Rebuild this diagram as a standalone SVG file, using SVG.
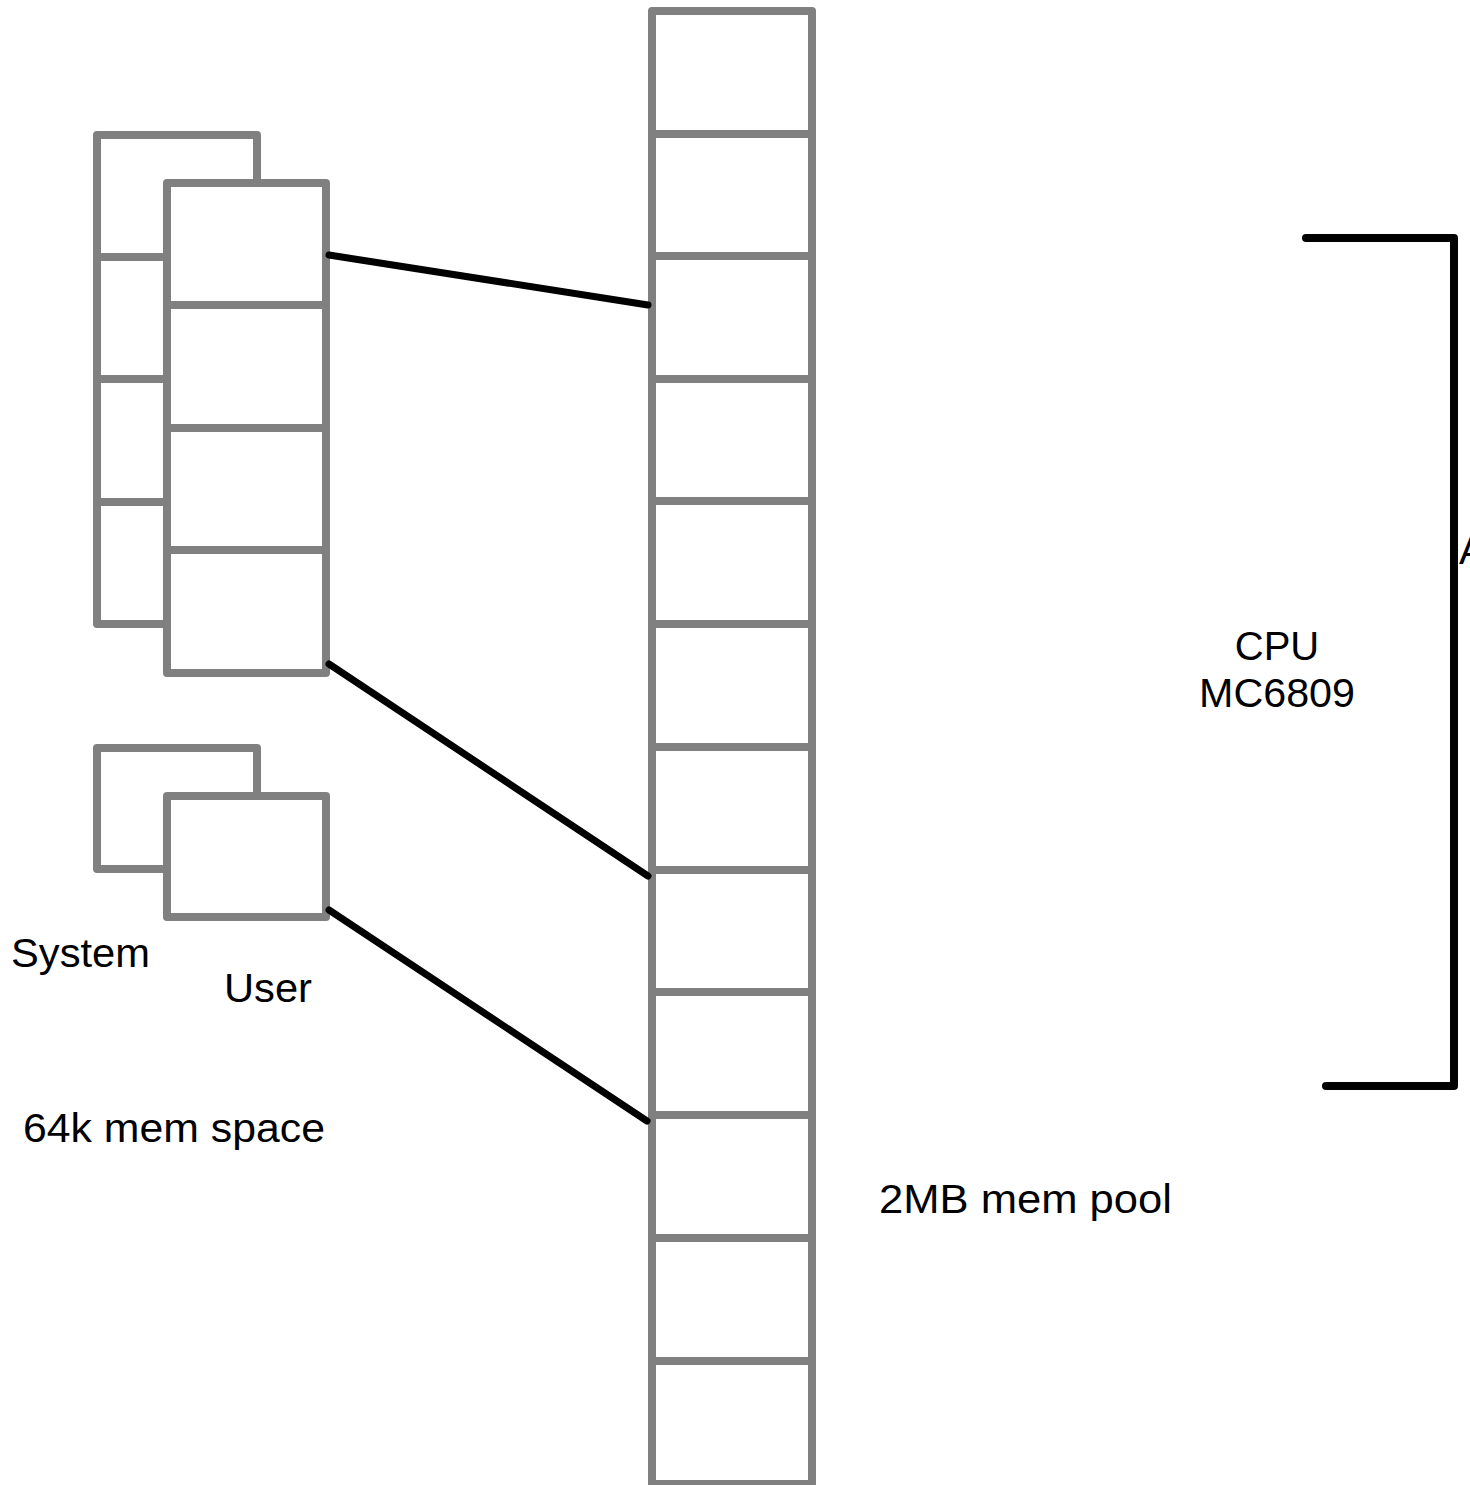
<svg xmlns="http://www.w3.org/2000/svg" width="1470" height="1485" viewBox="0 0 1470 1485">
<style>
.box{fill:#fff;stroke:#808080;stroke-width:8;stroke-linejoin:round}
.div{stroke:#808080;stroke-width:8;fill:none}
.con{stroke:#000;stroke-width:7;stroke-linecap:round;fill:none}
.br{stroke:#000;stroke-width:8;stroke-linecap:round;stroke-linejoin:round;fill:none}
text{font-family:"Liberation Sans",Arial,Helvetica,sans-serif;font-size:40px;fill:#000}
</style>
<rect width="1470" height="1485" fill="#fff"/>
<g id="system-space">
<rect class="box" x="97" y="135" width="160" height="489"/>
<line class="div" x1="97" y1="257" x2="257" y2="257"/>
<line class="div" x1="97" y1="379" x2="257" y2="379"/>
<line class="div" x1="97" y1="502" x2="257" y2="502"/>
</g>
<g id="user-space">
<rect class="box" x="167" y="183" width="159" height="490"/>
<line class="div" x1="167" y1="305" x2="326" y2="305"/>
<line class="div" x1="167" y1="428" x2="326" y2="428"/>
<line class="div" x1="167" y1="550" x2="326" y2="550"/>
</g>
<g id="system-page">
<rect class="box" x="97" y="748" width="160" height="121"/>
</g>
<g id="user-page">
<rect class="box" x="167" y="796" width="159" height="121"/>
</g>
<g id="mem-pool">
<rect class="box" x="652" y="11" width="160" height="1473"/>
<line class="div" x1="652" y1="134" x2="812" y2="134"/>
<line class="div" x1="652" y1="256" x2="812" y2="256"/>
<line class="div" x1="652" y1="379" x2="812" y2="379"/>
<line class="div" x1="652" y1="501" x2="812" y2="501"/>
<line class="div" x1="652" y1="624" x2="812" y2="624"/>
<line class="div" x1="652" y1="747" x2="812" y2="747"/>
<line class="div" x1="652" y1="870" x2="812" y2="870"/>
<line class="div" x1="652" y1="992" x2="812" y2="992"/>
<line class="div" x1="652" y1="1115" x2="812" y2="1115"/>
<line class="div" x1="652" y1="1238" x2="812" y2="1238"/>
<line class="div" x1="652" y1="1361" x2="812" y2="1361"/>
</g>
<g id="connectors">
<line class="con" x1="329" y1="255" x2="648" y2="305"/>
<line class="con" x1="329" y1="664" x2="648" y2="876"/>
<line class="con" x1="329" y1="910" x2="647" y2="1121"/>
</g>
<g id="cpu">
<polyline class="br" points="1306,238 1454,238 1454,1086 1326,1086"/>
<text x="1277" y="660" text-anchor="middle">CPU</text>
<text x="1277" y="707" text-anchor="middle" textLength="156" lengthAdjust="spacingAndGlyphs">MC6809</text>
<text x="1459" y="564">A</text>
</g>
<g id="labels">
<text x="11" y="967" textLength="139" lengthAdjust="spacingAndGlyphs">System</text>
<text x="224" y="1002" textLength="88" lengthAdjust="spacingAndGlyphs">User</text>
<text x="23" y="1142" textLength="302" lengthAdjust="spacingAndGlyphs">64k mem space</text>
<text x="879" y="1213" textLength="293" lengthAdjust="spacingAndGlyphs">2MB mem pool</text>
</g>
</svg>
